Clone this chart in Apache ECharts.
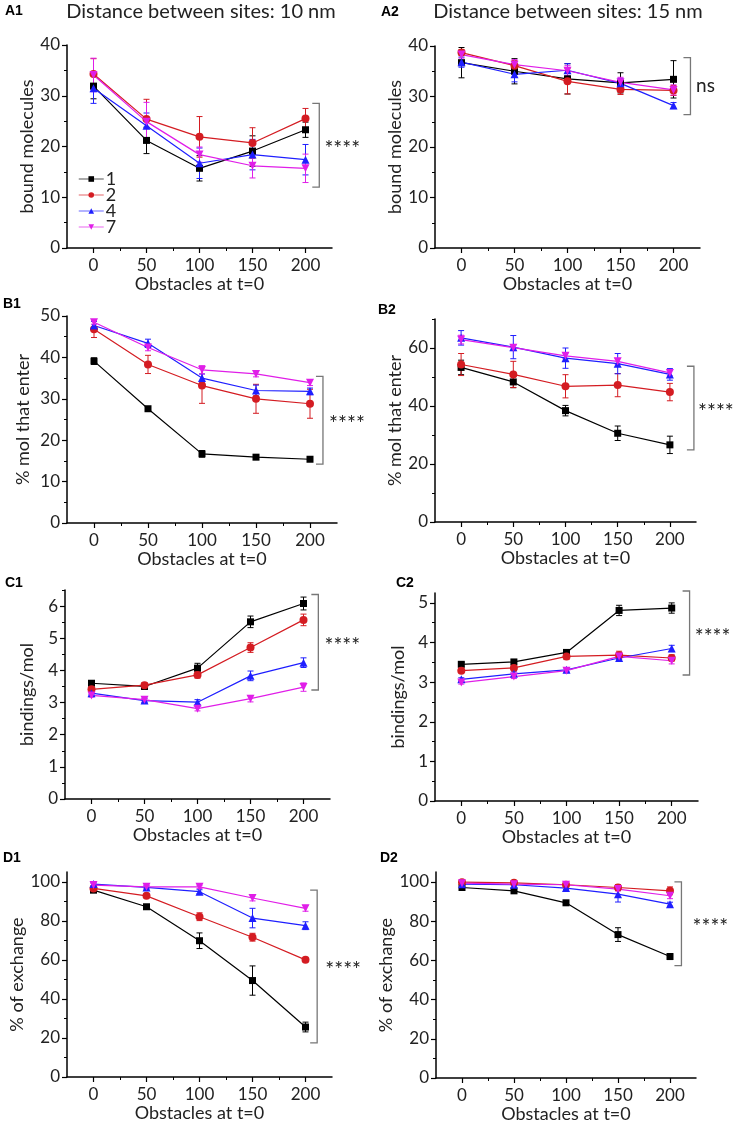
<!DOCTYPE html>
<html><head><meta charset="utf-8">
<script src="https://cdn.jsdelivr.net/npm/echarts@6/dist/echarts.min.js"></script>
<style>html,body{margin:0;padding:0;background:#fff}#c{width:736px;height:1124px}</style>
</head><body><div id="c"></div><script>
// ---------- data ----------
const obstacles = [0, 50, 100, 150, 200];
const seriesNames = ['1', '2', '4', '7'];
const xTickValues = [0, 50, 100, 150, 200];
const xMinorValues = [25, 75, 125, 175];

// means, rows in order of seriesNames
const A1_mean = [[31.9,21.2,15.7,19.1,23.3],[34.3,25.4,21.9,20.7,25.5],[31.5,24.1,16.7,18.4,17.4],[34.1,24.9,18.4,16.2,15.7]];
const A1_err  = [[2.5,2.6,2.5,3.0,1.5],[3.0,3.9,4.0,3.0,2.0],[3.0,2.5,3.0,3.0,3.0],[3.3,3.8,1.5,2.4,2.8]];
const A2_mean = [[36.7,35.0,33.5,32.7,33.4],[38.7,36.1,33.0,31.4,31.2],[36.8,34.4,35.2,32.6,28.2],[38.3,36.3,35.1,32.8,31.3]];
const A2_err  = [[3.0,2.5,3.0,2.0,3.7],[0.6,1.0,2.5,1.0,1.0],[1.0,1.5,1.3,1.0,0.6],[0.7,1.0,1.0,1.0,1.0]];
const B1_mean = [[39.1,27.6,16.7,15.9,15.4],[46.8,38.3,33.2,30.0,28.8],[47.7,43.4,35.0,32.0,31.8],[48.5,42.4,37.0,36.0,33.9]];
const B1_err  = [[0.8,0.5,0.8,0.4,0.4],[2.0,2.2,4.3,3.5,3.5],[1.0,1.0,1.0,1.3,0.8],[0.5,0.8,1.0,0.7,0.7]];
const B2_mean = [[53.3,48.3,38.4,30.6,26.6],[54.3,50.9,46.8,47.2,44.8],[63.5,60.3,56.5,54.6,50.9],[62.9,60.1,57.3,55.4,51.4]];
const B2_err  = [[2.5,2.0,1.8,2.5,3.0],[3.8,4.5,4.0,4.0,3.0],[2.5,4.0,3.5,3.5,2.0],[1.5,1.0,1.0,1.0,1.0]];
const C1_mean = [[3.60,3.50,4.07,5.51,6.08],[3.41,3.54,3.86,4.71,5.57],[3.29,3.06,3.01,3.83,4.24],[3.22,3.09,2.81,3.12,3.48]];
const C1_err  = [[0.05,0.08,0.15,0.18,0.2],[0.05,0.08,0.1,0.15,0.18],[0.05,0.06,0.08,0.15,0.15],[0.05,0.05,0.07,0.1,0.13]];
const C2_mean = [[3.45,3.51,3.75,4.81,4.87],[3.29,3.36,3.65,3.68,3.61],[3.07,3.21,3.31,3.61,3.85],[2.99,3.14,3.29,3.65,3.54]];
const C2_err  = [[0.05,0.05,0.07,0.13,0.13],[0.04,0.05,0.08,0.1,0.08],[0.04,0.05,0.05,0.05,0.08],[0.04,0.05,0.05,0.05,0.08]];
const D1_mean = [[95.7,87.2,69.8,49.4,25.6],[96.6,92.8,82.1,71.6,60.0],[98.8,97.1,94.9,81.4,77.5],[98.3,97.4,97.4,91.7,86.4]];
const D1_err  = [[1,1,4,7.5,2.5],[0.6,1,2,2,1],[0.8,0.8,1,5,2],[0.8,0.8,0.8,1.5,1.5]];
const D2_mean = [[97.1,95.4,89.3,73.1,61.9],[99.8,99.5,98.5,97.1,95.4],[98.8,98.5,96.8,93.7,88.6],[99.3,98.8,98.5,96.3,92.9]];
const D2_err  = [[0.5,0.8,0.8,3.5,1.5],[0.5,0.5,0.5,1.5,2],[0.5,0.5,0.8,4,1],[0.5,0.5,0.5,1,1.5]];

// significance brackets [low, high] and labels
const A1_bracket = [12.0, 28.5], A2_bracket = [26.4, 37.7];
const B1_bracket = [14.2, 35.4], B2_bracket = [24.9, 53.7];
const C1_bracket = [3.39, 6.36], C2_bracket = [3.18, 5.30];
const D1_bracket = [17.5, 95.7], D2_bracket = [57.3, 100];
const sigLabels = ['****', 'ns', '****', '****', '****', '****', '****', '****'];

// y tick labels
const A_yTicks = [0, 10, 20, 30, 40];
const B1_yTicks = [0, 10, 20, 30, 40, 50];
const B2_yTicks = [0, 20, 40, 60];
const C1_yTicks = [0, 1, 2, 3, 4, 5, 6];
const C2_yTicks = [0, 1, 2, 3, 4, 5];
const D_yTicks = [0, 20, 40, 60, 80, 100];

const yNames = ['bound molecules','bound molecules','% mol that enter','% mol that enter','bindings/mol','bindings/mol','% of exchange','% of exchange'];
const xName = 'Obstacles at t=0';
const titles = ['Distance between sites: 10 nm', 'Distance between sites: 15 nm'];
const panelLabels = ['A1','A2','B1','B2','C1','C2','D1','D2'];

// ---------- layout / style ----------
const FONT = 'Lato';
const colors = ['#000000', '#d41c22', '#1f1fff', '#e01ee8'];
const symbols = ['rect', 'circle', 'triangle', 'triangle'];
const symbolRot = [0, 0, 0, 180];
const symbolSizes = [7, 8, 8, 8];

const panels = [
  {mean:A1_mean, err:A1_err, br:A1_bracket, yTicks:A_yTicks, yMax:40,   left:67,  top:45,  width:265, height:203, nameGap:31, bx:213, dx:23},
  {mean:A2_mean, err:A2_err, br:A2_bracket, yTicks:A_yTicks, yMax:40,   left:435, top:46,  width:265, height:202, nameGap:30, bx:216, dx:15},
  {mean:B1_mean, err:B1_err, br:B1_bracket, yTicks:B1_yTicks, yMax:50,  left:67,  top:316, width:270, height:207, nameGap:35, bx:212, dx:24},
  {mean:B2_mean, err:B2_err, br:B2_bracket, yTicks:B2_yTicks, yMax:70,  left:435, top:319, width:261, height:203, nameGap:28, bx:223, dx:22},
  {mean:C1_mean, err:C1_err, br:C1_bracket, yTicks:C1_yTicks, yMax:6.5, left:65,  top:590, width:265, height:209, nameGap:29, bx:214, dx:24},
  {mean:C2_mean, err:C2_err, br:C2_bracket, yTicks:C2_yTicks, yMax:5.25,left:435, top:593, width:263, height:208, nameGap:28, bx:217, dx:23},
  {mean:D1_mean, err:D1_err, br:D1_bracket, yTicks:D_yTicks, yMax:105,  left:67,  top:872, width:265, height:205, nameGap:31, bx:211, dx:26},
  {mean:D2_mean, err:D2_err, br:D2_bracket, yTicks:D_yTicks, yMax:105,  left:436, top:872, width:260, height:206, nameGap:29, bx:211, dx:29}
];

const textColor = '#222';
const grid = [], xAxis = [], yAxis = [], series = [];

function errRender(params, api) {
  const x = api.value(0);
  const p1 = api.coord([x, api.value(1)]);
  const p2 = api.coord([x, api.value(2)]);
  const c = api.visual('color');
  const w = 3;
  const st = {stroke: c, lineWidth: 1};
  return {type: 'group', children: [
    {type:'line', shape:{x1:p1[0], y1:p1[1], x2:p2[0], y2:p2[1]}, style: st},
    {type:'line', shape:{x1:p1[0]-w, y1:p1[1], x2:p1[0]+w, y2:p1[1]}, style: st},
    {type:'line', shape:{x1:p2[0]-w, y1:p2[1], x2:p2[0]+w, y2:p2[1]}, style: st}
  ]};
}

panels.forEach((p, i) => {
  grid.push({left: p.left, top: p.top, width: p.width, height: p.height});
  const step = p.yTicks[1] - p.yTicks[0];
  const yMinor = [];
  p.yTicks.forEach(v => { if (v + step / 2 <= p.yMax + 1e-9) yMinor.push(v + step / 2); });

  xAxis.push({
    gridIndex: i, type: 'value', min: -25, max: 225, position: 'bottom',
    name: xName, nameLocation: 'middle', nameGap: 26,
    nameTextStyle: {fontFamily: FONT, fontSize: 18, color: textColor},
    axisLine: {show: true, onZero: false, lineStyle: {color: '#000', width: 1.5}},
    axisTick: {show: true, length: 5, customValues: xTickValues, lineStyle: {color: '#000', width: 1.2}},
    axisLabel: {customValues: xTickValues, fontFamily: FONT, fontSize: 17, color: textColor, margin: 9},
    splitLine: {show: false}
  });
  xAxis.push({
    gridIndex: i, type: 'value', min: -25, max: 225, position: 'bottom',
    axisLine: {show: false, onZero: false},
    axisTick: {show: true, length: 3, customValues: xMinorValues, lineStyle: {color: '#000', width: 1}},
    axisLabel: {show: false}, splitLine: {show: false}
  });
  yAxis.push({
    gridIndex: i, type: 'value', min: 0, max: p.yMax, position: 'left',
    name: yNames[i], nameLocation: 'middle', nameGap: p.nameGap,
    nameTextStyle: {fontFamily: FONT, fontSize: 18, color: textColor},
    axisLine: {show: true, onZero: false, lineStyle: {color: '#000', width: 1.5}},
    axisTick: {show: true, length: 5, customValues: p.yTicks, lineStyle: {color: '#000', width: 1.2}},
    axisLabel: {customValues: p.yTicks, fontFamily: FONT, fontSize: 17, color: textColor, margin: 7},
    splitLine: {show: false}
  });
  yAxis.push({
    gridIndex: i, type: 'value', min: 0, max: p.yMax, position: 'left',
    axisLine: {show: false, onZero: false},
    axisTick: {show: true, length: 3, customValues: yMinor, lineStyle: {color: '#000', width: 1}},
    axisLabel: {show: false}, splitLine: {show: false}
  });
  const xi = i * 2, yi = i * 2;

  seriesNames.forEach((nm, s) => {
    series.push({
      type: 'custom', name: 'err' + nm, xAxisIndex: xi, yAxisIndex: yi,
      renderItem: errRender, clip: false, z: 3,
      itemStyle: {color: colors[s]},
      encode: {x: 0, y: [1, 2]},
      data: obstacles.map((x, k) => [x, p.mean[s][k] - p.err[s][k], p.mean[s][k] + p.err[s][k]]),
      silent: true
    });
    series.push({
      type: 'line', name: nm, xAxisIndex: xi, yAxisIndex: yi,
      data: obstacles.map((x, k) => [x, p.mean[s][k]]),
      symbol: symbols[s], symbolRotate: symbolRot[s], symbolSize: symbolSizes[s],
      itemStyle: {color: colors[s]}, lineStyle: {color: colors[s], width: 1.2},
      z: 4, animation: false
    });
  });
  series.push({
    type: 'custom', name: 'bracket', xAxisIndex: xi, yAxisIndex: yi, clip: false, silent: true,
    data: [[p.bx, p.br[0], p.br[1]]],
    renderItem: (params, api) => {
      const a = api.coord([api.value(0), api.value(1)]);
      const b = api.coord([api.value(0), api.value(2)]);
      const st = {stroke: '#777', lineWidth: 1.3, fill: null};
      const isStar = sigLabels[i].indexOf('*') >= 0;
      return {type: 'group', children: [
        {type: 'polyline', shape: {points: [[a[0]-7, a[1]], [a[0], a[1]], [b[0], b[1]], [b[0]-7, b[1]]]}, style: st},
        {type: 'text', x: a[0] + p.dx, y: (a[1] + b[1]) / 2 + (isStar ? 4 : 0),
         style: {text: sigLabels[i], fill: '#222', font: (isStar ? '21px ' : '19px ') + FONT, align: 'center', verticalAlign: 'middle'}}
      ]};
    }
  });
});

const graphic = [
  {type:'text', x:201, y:12, style:{text:titles[0], font:'20px '+FONT, fill:textColor, align:'center', verticalAlign:'middle'}},
  {type:'text', x:568, y:12, style:{text:titles[1], font:'20px '+FONT, fill:textColor, align:'center', verticalAlign:'middle'}}
];
const labelPos = [[5,11],[381,12],[3,304],[378,310],[5,583],[396,583],[3,858],[380,858]];
panelLabels.forEach((t, i) => {
  graphic.push({type:'text', x: labelPos[i][0], y: labelPos[i][1],
    style:{text:t, font:'bold 14px "Liberation Sans"', fill:'#000', align:'left', verticalAlign:'middle'}});
});

const chart = echarts.init(document.getElementById('c'), null, {renderer: 'canvas'});
chart.setOption({
  animation: false,
  backgroundColor: '#fff',
  grid, xAxis, yAxis, series, graphic,
  legend: {
    data: seriesNames, left: 78, top: 170, orient: 'vertical', padding: 0,
    itemWidth: 25, itemHeight: 7, itemGap: -2,
    lineStyle: {opacity: 0.45, width: 1.5},
    textStyle: {fontFamily: FONT, fontSize: 18, lineHeight: 16, color: textColor, padding: [0, 0, 0, -3]}
  }
});
</script></body></html>
